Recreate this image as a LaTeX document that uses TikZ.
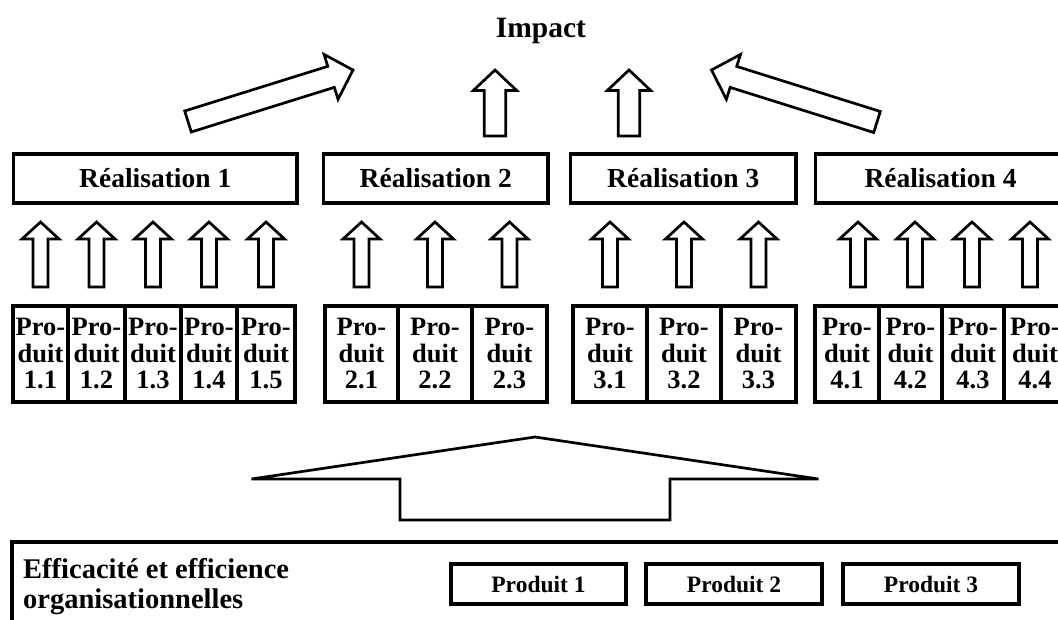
\documentclass[tikz,border=0pt]{standalone}
\usepackage{fontspec}
\setmainfont{Liberation Serif}
\usetikzlibrary{calc}

% block arrow: tail, tip, half shaft, half head, head length
\newcommand{\blockarr}[5]{%
  \coordinate (ta) at #1;
  \coordinate (tp) at #2;
  \coordinate (hb) at ($(tp)!#5!(ta)$);
  \draw[arr] ($(ta)!#3!90:(tp)$) -- ($(hb)!#3!-90:(ta)$) -- ($(hb)!#4!-90:(ta)$) -- (tp)
    -- ($(hb)!#4!90:(ta)$) -- ($(hb)!#3!90:(ta)$) -- ($(ta)!#3!-90:(tp)$) -- cycle;
}

\begin{document}
\begin{tikzpicture}[x=1pt,y=-1pt]
\tikzstyle{realbox}=[draw,line width=3.2pt,outer sep=0pt,minimum height=49pt,anchor=north west,font=\fontsize{27.5}{27.5}\selectfont\bfseries]
\tikzstyle{prodbox}=[draw,line width=3.2pt,outer sep=0pt,minimum height=96pt,anchor=north west,inner sep=0pt,align=center,font=\fontsize{26.5}{26.5}\selectfont\bfseries]
\tikzstyle{orgbox}=[draw,line width=3.2pt,outer sep=0pt,minimum height=40pt,anchor=north west,font=\fontsize{23.5}{23.5}\selectfont\bfseries]
\tikzstyle{arr}=[draw,line width=2.7pt,fill=white]

\useasboundingbox (0,0) rectangle (1058,620);
\clip (0,0) rectangle (1058,620);

\path (541,38) node[anchor=base,font=\fontsize{29.5}{29.5}\selectfont\bfseries] (impact) {Impact};

% realisations
\path (13.5,154) node[realbox,minimum width=283.5pt] (r1) {Réalisation 1}
  (323.5,154) node[realbox,minimum width=224.5pt] (r2) {Réalisation 2}
  (570.5,154) node[realbox,minimum width=225.5pt] (r3) {Réalisation 3}
  (815.5,154) node[realbox,minimum width=250pt] (r4) {Réalisation 4};

% produits
\path (13,306) node[prodbox,minimum width=55pt] (p11) {Pro-\\duit\\1.1}
  (68,306) node[prodbox,minimum width=57pt] (p12) {Pro-\\duit\\1.2}
  (125,306) node[prodbox,minimum width=56pt] (p13) {Pro-\\duit\\1.3}
  (181,306) node[prodbox,minimum width=56pt] (p14) {Pro-\\duit\\1.4}
  (237,306) node[prodbox,minimum width=58pt] (p15) {Pro-\\duit\\1.5};
\path (325,306) node[prodbox,minimum width=73pt] (p21) {Pro-\\duit\\2.1}
  (398,306) node[prodbox,minimum width=74pt] (p22) {Pro-\\duit\\2.2}
  (472,306) node[prodbox,minimum width=75pt] (p23) {Pro-\\duit\\2.3};
\path (573,306) node[prodbox,minimum width=74pt] (p31) {Pro-\\duit\\3.1}
  (647,306) node[prodbox,minimum width=74pt] (p32) {Pro-\\duit\\3.2}
  (721,306) node[prodbox,minimum width=75pt] (p33) {Pro-\\duit\\3.3};
\path (815,306) node[prodbox,minimum width=64pt] (p41) {Pro-\\duit\\4.1}
  (879,306) node[prodbox,minimum width=63pt] (p42) {Pro-\\duit\\4.2}
  (942,306) node[prodbox,minimum width=62pt] (p43) {Pro-\\duit\\4.3}
  (1004,306) node[prodbox,minimum width=62pt] (p44) {Pro-\\duit\\4.4};

% small arrows
\foreach \p in {p11,p12,p13,p14,p15,p21,p22,p23,p31,p32,p33}{
  \blockarr{([yshift=19pt]\p.north)}{([yshift=84pt]\p.north)}{7.5pt}{18.5pt}{17pt}
}
\blockarr{([xshift=11pt,yshift=19pt]p41.north)}{([xshift=11pt,yshift=84pt]p41.north)}{7.5pt}{18.5pt}{17pt}
\blockarr{([xshift=4.5pt,yshift=19pt]p42.north)}{([xshift=4.5pt,yshift=84pt]p42.north)}{7.5pt}{18.5pt}{17pt}
\blockarr{([xshift=-1pt,yshift=19pt]p43.north)}{([xshift=-1pt,yshift=84pt]p43.north)}{7.5pt}{18.5pt}{17pt}
\blockarr{([xshift=-5pt,yshift=19pt]p44.north)}{([xshift=-5pt,yshift=84pt]p44.north)}{7.5pt}{18.5pt}{17pt}

% arrows to impact
\blockarr{(188,121.5)}{(353,70)}{11pt}{23.5pt}{23pt}
\blockarr{(495,136)}{(495,70)}{10.75pt}{21.8pt}{20.6pt}
\blockarr{(629,136)}{(629,70)}{10.75pt}{21.8pt}{20.6pt}
\blockarr{(877,122)}{(711.5,70)}{11pt}{23.5pt}{23pt}

% big arrow
\blockarr{(535,520)}{(535,437)}{135pt}{283.5pt}{42pt}

% organisation
\path (12,542) node[draw,line width=3.2pt,outer sep=0pt,anchor=north west,minimum width=1060pt,minimum height=100pt] (org) {};
\path (23,558) node[anchor=north west,align=left,inner sep=0pt,font=\fontsize{28.5}{30}\selectfont\bfseries] (eff) {Efficacité et efficience\\organisationnelles};
\path (451,564) node[orgbox,minimum width=175pt] (q1) {Produit 1}
  (646,564) node[orgbox,minimum width=176pt] (q2) {Produit 2}
  (843,564) node[orgbox,minimum width=176pt] (q3) {Produit 3};
\end{tikzpicture}
\end{document}
